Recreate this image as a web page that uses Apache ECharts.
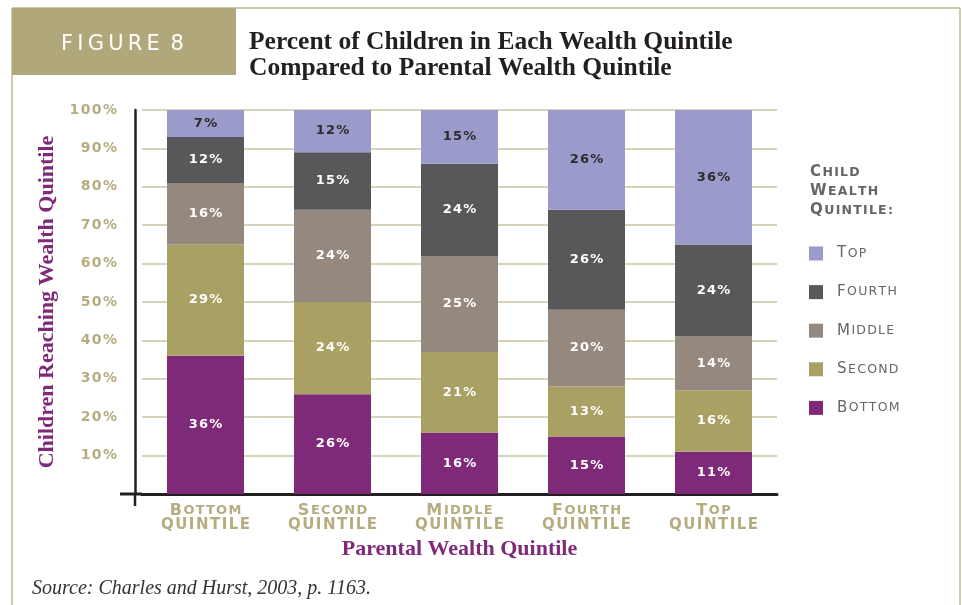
<!DOCTYPE html>
<html>
<head>
<meta charset="utf-8">
<script src="https://cdn.jsdelivr.net/npm/echarts@6/dist/echarts.min.js"></script>
<style>
  html, body { margin: 0; padding: 0; background: #fff; }
  #chart { width: 962px; height: 605px; }
</style>
</head>
<body>
<div id="chart"></div>
<script>
// parental wealth quintile (x axis)
const categories = ['Bottom', 'Second', 'Middle', 'Fourth', 'Top'];
// child wealth quintile shares, %
const bottomVals = [36, 26, 16, 15, 11];
const secondVals = [29, 24, 21, 13, 16];
const middleVals = [16, 24, 25, 20, 14];
const fourthVals = [12, 15, 24, 26, 24];
const topVals = [7, 12, 15, 26, 36];
const legendOrder = ['Top', 'Fourth', 'Middle', 'Second', 'Bottom'];

const TAN = '#b5ac80';
const GRID_TAN = '#cbc6a4';
const PURPLE = '#7f2a78';
const WIDE = '"DejaVu Sans", sans-serif';
const SERIF = '"Liberation Serif", "DejaVu Serif", serif';
const HAIR = '\u200A';

const chart = echarts.init(document.getElementById('chart'), null, { renderer: 'canvas' });

// poor man's letter spacing
const spaced = (s, gap) => s.split('').join(gap || HAIR);
// small caps: first letter big, rest small
const smallCaps = (word, big, small) =>
  '{' + big + '|' + word[0].toUpperCase() + HAIR + '}{' + small + '|' + spaced(word.slice(1).toUpperCase()) + '}';

const makeSeries = (name, data, color, labelColor) => ({
  name: name,
  type: 'bar',
  stack: 'total',
  data: data,
  barWidth: 77,
  itemStyle: { color: color },
  label: {
    show: true,
    position: 'inside',
    formatter: (p) => spaced(p.value + '%'),
    color: labelColor,
    fontFamily: WIDE,
    fontWeight: 'bold',
    fontSize: 13
  },
  emphasis: { disabled: true }
});

const option = {
  animation: false,
  backgroundColor: '#fff',
  title: [
    {
      text: spaced('FIGURE', '\u2009') + '\u2009 8',
      left: 56, top: 29,
      textStyle: { color: '#fff', fontFamily: WIDE, fontSize: 21, fontWeight: 'normal' }
    },
    {
      text: 'Percent of Children in Each Wealth Quintile\nCompared to Parental Wealth Quintile',
      left: 244, top: 24,
      textStyle: { color: '#231f20', fontFamily: SERIF, fontSize: 25.5, fontWeight: 'bold', lineHeight: 26 }
    },
    {
      text: smallCaps('Child', 'b', 's') + '\n' + smallCaps('Wealth', 'b', 's') + '\n' + smallCaps('Quintile:', 'b', 's'),
      left: 805, top: 158,
      textStyle: {
        rich: {
          b: { fontFamily: WIDE, fontSize: 15, color: '#666', lineHeight: 19 },
          s: { fontFamily: WIDE, fontSize: 12.5, color: '#666', lineHeight: 19 }
        }
      }
    },
    {
      text: 'Source: Charles and Hurst, 2003, p. 1163.',
      left: 27, top: 574,
      textStyle: { color: '#333', fontFamily: SERIF, fontSize: 20, fontStyle: 'italic', fontWeight: 'normal' }
    }
  ],
  legend: {
    data: legendOrder,
    orient: 'vertical',
    left: 804, top: 241,
    itemWidth: 14, itemHeight: 14, itemGap: 23.6,
    icon: 'rect',
    selectedMode: false,
    formatter: (name) => smallCaps(name, 'b', 's'),
    textStyle: {
      padding: [0, 0, 0, 9],
      rich: {
        b: { fontFamily: WIDE, fontSize: 15, color: '#666', lineHeight: 14 },
        s: { fontFamily: WIDE, fontSize: 12.5, color: '#666', lineHeight: 14 }
      }
    }
  },
  grid: { left: 142, right: 185, top: 110, bottom: 111, containLabel: false },
  xAxis: {
    type: 'category',
    data: categories,
    axisLine: { lineStyle: { color: '#231f20', width: 3 } },
    axisTick: { show: false },
    axisLabel: {
      interval: 0,
      margin: 9,
      formatter: (v) => smallCaps(v, 'b', 's') + '\n{q|' + spaced('QUINTILE') + '}',
      rich: {
        b: { fontFamily: WIDE, fontSize: 16, fontWeight: 'bold', color: TAN, lineHeight: 15 },
        s: { fontFamily: WIDE, fontSize: 13, fontWeight: 'bold', color: TAN, lineHeight: 15 },
        q: { fontFamily: WIDE, fontSize: 15, fontWeight: 'bold', color: TAN, lineHeight: 15 }
      }
    },
    name: 'Parental Wealth Quintile',
    nameLocation: 'middle',
    nameGap: 42,
    nameTextStyle: { color: PURPLE, fontFamily: SERIF, fontSize: 22, fontWeight: 'bold' }
  },
  yAxis: {
    type: 'value',
    min: 0, max: 100, interval: 10,
    offset: 7,
    axisLine: { show: true, lineStyle: { color: '#231f20', width: 2.5 } },
    axisTick: { show: false },
    splitLine: { lineStyle: { color: GRID_TAN, width: 1.5 } },
    axisLabel: {
      margin: 18,
      formatter: (v) => (v === 0 ? '' : spaced(v + '%')),
      color: TAN, fontFamily: WIDE, fontSize: 14, fontWeight: 'bold'
    },
    name: 'Children Reaching Wealth Quintile',
    nameLocation: 'middle',
    nameGap: 70,
    nameTextStyle: { color: PURPLE, fontFamily: SERIF, fontSize: 22, fontWeight: 'bold' }
  },
  graphic: [
    // page frame and header block
    { type: 'line', shape: { x1: 12, y1: 8, x2: 960, y2: 8 }, style: { stroke: '#c2ba90', lineWidth: 1.5 }, z: 0 },
    { type: 'line', shape: { x1: 12, y1: 8, x2: 12, y2: 605 }, style: { stroke: '#c2ba90', lineWidth: 1.5 }, z: 0 },
    { type: 'line', shape: { x1: 960, y1: 8, x2: 960, y2: 605 }, style: { stroke: '#c2ba90', lineWidth: 1.5 }, z: 0 },
    { type: 'rect', shape: { x: 12, y: 8, width: 224, height: 67 }, style: { fill: '#b0a87b' }, z: 0 },
    // axis line overhangs
    { type: 'line', shape: { x1: 120, y1: 494, x2: 142, y2: 494 }, style: { stroke: '#231f20', lineWidth: 3 }, z: 10 },
    { type: 'line', shape: { x1: 135, y1: 494, x2: 135, y2: 506 }, style: { stroke: '#231f20', lineWidth: 2.5 }, z: 10 }
  ],
  series: [
    makeSeries('Bottom', bottomVals, '#7f2a78', '#fff'),
    makeSeries('Second', secondVals, '#a8a163', '#fff'),
    makeSeries('Middle', middleVals, '#95887e', '#fff'),
    makeSeries('Fourth', fourthVals, '#58585a', '#fff'),
    makeSeries('Top', topVals, '#9b9bcb', '#2b2b2b')
  ]
};

chart.setOption(option);
</script>
</body>
</html>
